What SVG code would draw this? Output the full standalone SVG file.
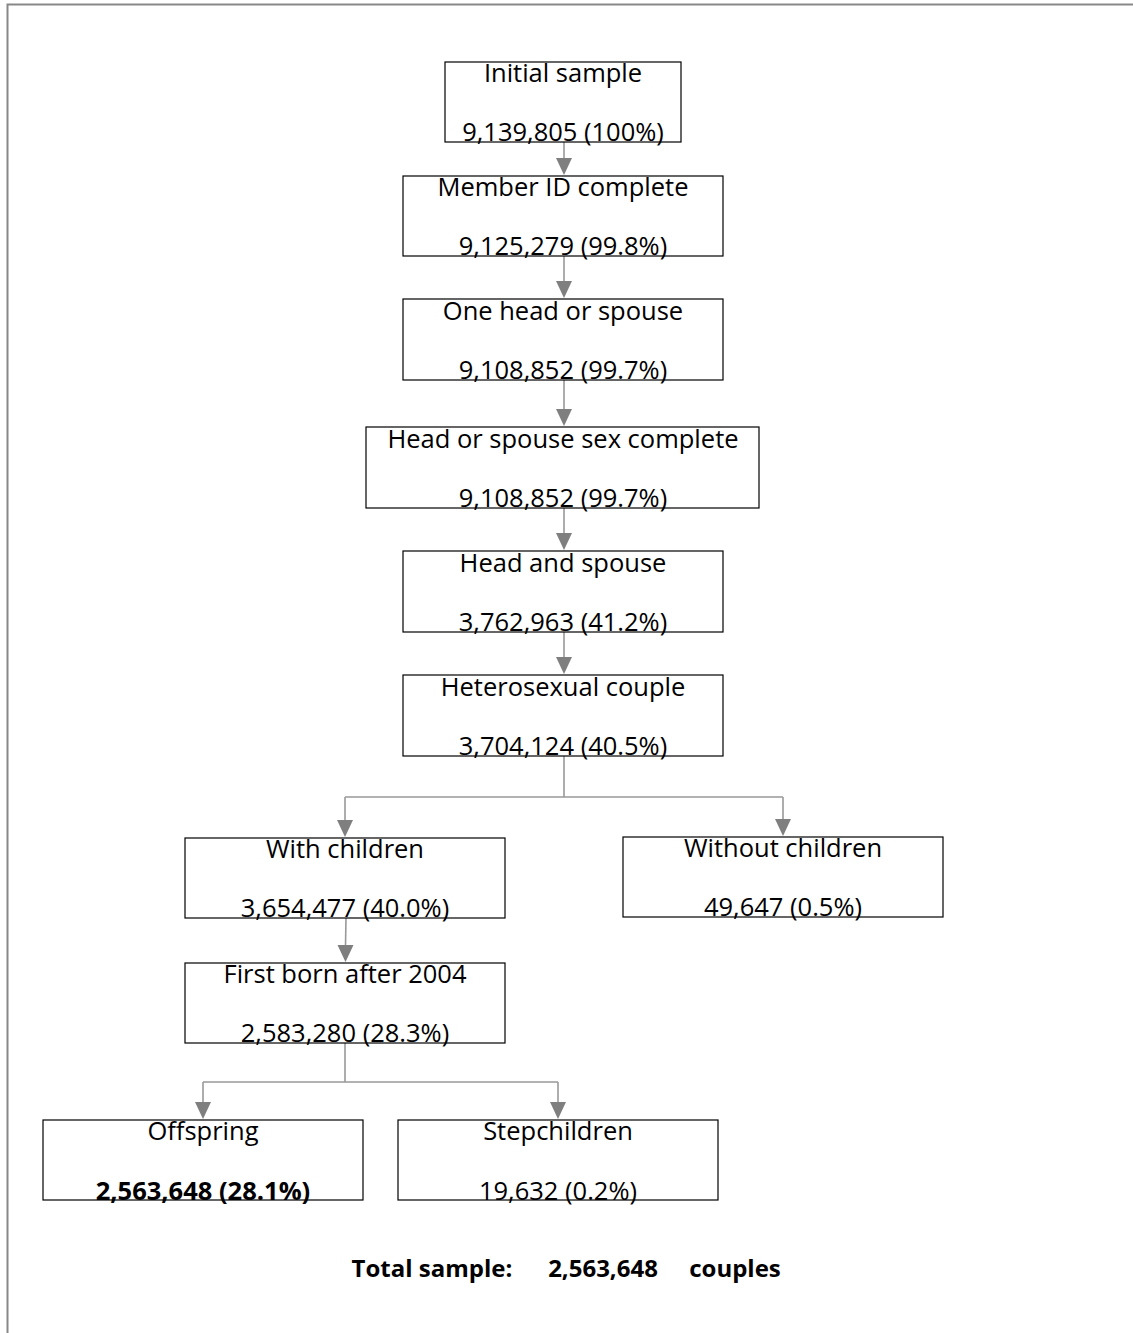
<svg xmlns="http://www.w3.org/2000/svg" width="1133" height="1333" viewBox="0 0 1133 1333">
<defs>
<style>
.box{fill:#fff;stroke:#000;stroke-width:1.2}
.t{font-family:"Open Sans","Liberation Sans",sans-serif;font-size:25.5px;fill:#000;text-anchor:middle}
.b{font-weight:bold}
.tot{font-size:24px}
.c{fill:none;stroke:#999;stroke-width:1.6}
.ah{fill:#7f7f7f}
.frame{fill:none;stroke:#888;stroke-width:2}
</style>
</defs>
<rect width="1133" height="1333" fill="#fff"/>
<path class="frame" d="M7.5,1333 V4.5 H1133"/>
<g id="connectors">
<path class="c" d="M564,142 V159"/><path class="ah" d="M556,158 L572,158 L564,175 Z"/>
<path class="c" d="M564,256 V282"/><path class="ah" d="M556,281 L572,281 L564,298 Z"/>
<path class="c" d="M564,380 V410"/><path class="ah" d="M556,409 L572,409 L564,426 Z"/>
<path class="c" d="M564,508 V534"/><path class="ah" d="M556,533 L572,533 L564,550 Z"/>
<path class="c" d="M564,632 V658"/><path class="ah" d="M556,657 L572,657 L564,674 Z"/>
<path class="c" d="M564,756 V797 M345,797 H783 M345,797 V821 M783,797 V820"/>
<path class="ah" d="M337,820 L353,820 L345,837 Z"/>
<path class="ah" d="M775,819 L791,819 L783,836 Z"/>
<path class="c" d="M346,918 L345.5,946"/><path class="ah" d="M337.5,945 L353.5,945 L345.5,962 Z"/>
<path class="c" d="M345,1043 V1082 M203,1082 H558 M203,1082 V1103 M558,1082 V1103"/>
<path class="ah" d="M195,1102 L211,1102 L203,1119 Z"/>
<path class="ah" d="M550,1102 L566,1102 L558,1119 Z"/>
</g>
<g id="n1"><rect class="box" x="445" y="62" width="236" height="80"/><text class="t" x="563" y="82">Initial sample</text><text class="t" x="563" y="141">9,139,805 (100%)</text></g>
<g id="n2"><rect class="box" x="403" y="176" width="320" height="80"/><text class="t" x="563" y="196">Member ID complete</text><text class="t" x="563" y="255">9,125,279 (99.8%)</text></g>
<g id="n3"><rect class="box" x="403" y="299" width="320" height="81"/><text class="t" x="563" y="320">One head or spouse</text><text class="t" x="563" y="379">9,108,852 (99.7%)</text></g>
<g id="n4"><rect class="box" x="366" y="427" width="393" height="81"/><text class="t" x="563" y="448">Head or spouse sex complete</text><text class="t" x="563" y="507">9,108,852 (99.7%)</text></g>
<g id="n5"><rect class="box" x="403" y="551" width="320" height="81"/><text class="t" x="563" y="572">Head and spouse</text><text class="t" x="563" y="631">3,762,963 (41.2%)</text></g>
<g id="n6"><rect class="box" x="403" y="675" width="320" height="81"/><text class="t" x="563" y="696">Heterosexual couple</text><text class="t" x="563" y="755">3,704,124 (40.5%)</text></g>
<g id="n7"><rect class="box" x="185" y="838" width="320" height="80"/><text class="t" x="345" y="858">With children</text><text class="t" x="345" y="917">3,654,477 (40.0%)</text></g>
<g id="n8"><rect class="box" x="623" y="837" width="320" height="80"/><text class="t" x="783" y="857">Without children</text><text class="t" x="783" y="916">49,647 (0.5%)</text></g>
<g id="n9"><rect class="box" x="185" y="963" width="320" height="80"/><text class="t" x="345" y="983">First born after 2004</text><text class="t" x="345" y="1042">2,583,280 (28.3%)</text></g>
<g id="n10"><rect class="box" x="43" y="1120" width="320" height="80"/><text class="t" x="203" y="1140">Offspring</text><text class="t b" x="203" y="1200">2,563,648 (28.1%)</text></g>
<g id="n11"><rect class="box" x="398" y="1120" width="320" height="80"/><text class="t" x="558" y="1140">Stepchildren</text><text class="t" x="558" y="1200">19,632 (0.2%)</text></g>
<g id="total"><text class="t b tot" x="432" y="1277">Total sample:</text><text class="t b tot" x="603" y="1277">2,563,648</text><text class="t b tot" x="735" y="1277">couples</text></g>
</svg>
